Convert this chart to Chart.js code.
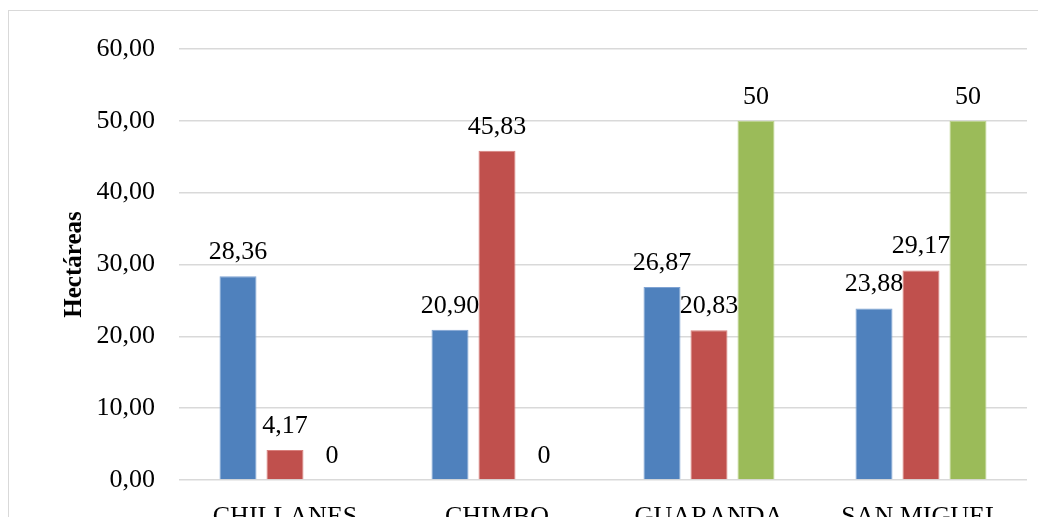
<!DOCTYPE html>
<html>
<head>
<meta charset="utf-8">
<script src="https://cdn.jsdelivr.net/npm/chart.js@4/dist/chart.umd.min.js"></script>
<style>
  html, body { margin: 0; padding: 0; background: #fff; overflow: hidden; }
  #wrap { position: relative; width: 1038px; height: 517px; }
  #frame { position: absolute; left: 8px; top: 10px; width: 1100px; height: 600px; border: 1px solid #d9d9d9; box-sizing: border-box; }
  canvas { position: absolute; left: 0; top: 0; }
</style>
</head>
<body>
<div id="wrap">
  <div id="frame"></div>
  <canvas id="c" width="1038" height="517"></canvas>
</div>
<script>
// Cantones and hectare values per series
const categories = ['CHILLANES', 'CHIMBO', 'GUARANDA', 'SAN MIGUEL'];
const serieAzul  = [28.36, 20.90, 26.87, 23.88];
const serieRoja  = [4.17, 45.83, 20.83, 29.17];
const serieVerde = [0, 0, 50, 50];
const yTicks = [0, 10, 20, 30, 40, 50, 60];

const FONT = '"Liberation Serif", "Times New Roman", serif';

const fmt2 = v => v.toFixed(2).replace('.', ',');
const fmt0 = v => String(Math.round(v));

// Value labels above each bar
const valueLabels = {
  id: 'valueLabels',
  afterDatasetsDraw(chart) {
    const ctx = chart.ctx;
    ctx.save();
    ctx.font = '26px ' + FONT;
    ctx.fillStyle = '#000';
    ctx.textAlign = 'center';
    ctx.textBaseline = 'alphabetic';
    chart.data.datasets.forEach((ds, i) => {
      const meta = chart.getDatasetMeta(i);
      meta.data.forEach((el, j) => {
        const v = ds.data[j];
        ctx.fillText(ds.labelFormat(v), el.x, el.y - 17);
      });
    });
    ctx.restore();
  }
};

new Chart(document.getElementById('c'), {
  type: 'bar',
  data: {
    labels: categories,
    datasets: [
      { data: serieAzul,  backgroundColor: '#4F81BD', borderColor: '#7FA3D3', borderWidth: 1, labelFormat: fmt2 },
      { data: serieRoja,  backgroundColor: '#C0504D', borderColor: '#D8807D', borderWidth: 1, labelFormat: fmt2 },
      { data: serieVerde, backgroundColor: '#9BBB59', borderColor: '#BBD38A', borderWidth: 1, labelFormat: fmt0 }
    ]
  },
  options: {
    responsive: false,
    animation: false,
    events: [],
    layout: { padding: { top: 49, right: 11, left: 0, bottom: 0 } },
    datasets: { bar: { categoryPercentage: 0.665, barPercentage: 0.787 } },
    plugins: { legend: { display: false }, tooltip: { enabled: false } },
    scales: {
      x: {
        grid: { display: false },
        border: { display: false },
        ticks: { color: '#000', font: { family: FONT, size: 26 }, padding: 14, maxRotation: 0 },
        afterFit(scale) { scale.height = 37; }
      },
      y: {
        min: 0, max: 60,
        afterBuildTicks(scale) { scale.ticks = yTicks.map(v => ({ value: v })); },
        grid: { color: '#d9d9d9', lineWidth: 1.5, drawTicks: true, tickLength: 20, tickColor: 'rgba(0,0,0,0)' },
        border: { display: false },
        ticks: { color: '#000', font: { family: FONT, size: 26 }, padding: 4, callback: v => fmt2(v) },
        title: { display: true, text: 'Hectáreas', color: '#000', font: { family: FONT, size: 25, weight: 'bold' }, padding: { top: 60, bottom: 0 } },
        afterFit(scale) { scale.width = 179; }
      }
    }
  },
  plugins: [valueLabels]
});
</script>
</body>
</html>
